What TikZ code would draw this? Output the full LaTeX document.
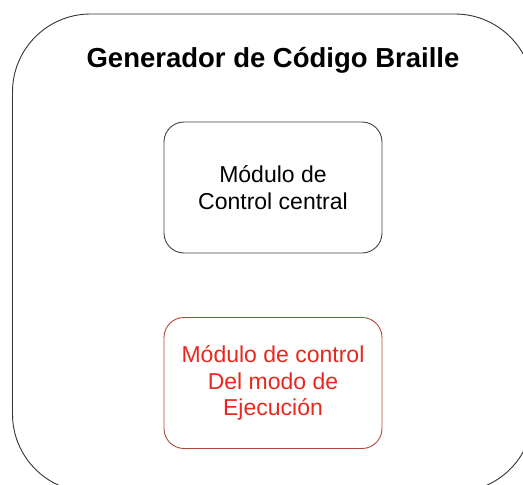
\documentclass[tikz,border=0pt]{standalone}
\usepackage{fontspec}
\setmainfont{Liberation Sans}
\usepackage{xcolor}
\definecolor{modred}{RGB}{232,40,28}
\definecolor{modborder}{RGB}{176,72,60}

\tikzset{
    modulo/.style={draw, line width=0.9pt, rounded corners=20pt,
        minimum width=218pt, minimum height=131pt, align=center,
        font=\fontsize{23}{26.5}\selectfont}
}

\begin{document}
\begin{tikzpicture}[x=1pt, y=-1pt]
        \useasboundingbox (0,0) rectangle (523,485);
        \clip (0,0) rectangle (523,485);

        % outer frame (runs off the page right and bottom)
        \draw[line width=0.9pt, draw=black!80, rounded corners=78pt] (12.5,14) rectangle (533,492);

        \node[font=\bfseries\fontsize{27.5}{31}\selectfont] (titulo) at (273,60) {Generador de Código Braille};

        \node[modulo, draw=black!75] (central) at (273,187.5) {Módulo de\\Control central};
        \node[modulo, draw=modborder, text=modred] (ejecucion) at (273,383) {Módulo de control\\Del modo de\\Ejecución};
    \end{tikzpicture}
\end{document}
